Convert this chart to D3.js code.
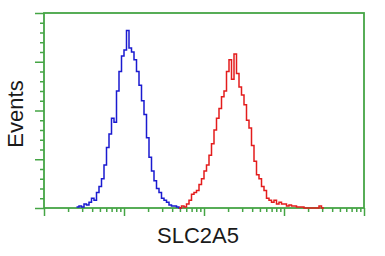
<!DOCTYPE html>
<html><head><meta charset="utf-8">
<script src="https://cdn.jsdelivr.net/npm/d3@7"></script>
<style>body{margin:0;background:#fff}svg{display:block}</style>
</head><body>
<script>
// Histogram data: 128 log-spaced channels over 4 decades; counts as % of y range
const blueStart = 13;
const blueCounts = [0.5,1,0.5,2,1.5,3,5,4,8,11,15,22,31,38,46,44,60,70,78,81,91,82,80,76,70,63,55,48,36,26,19,14,10,8,5,4,3,1.5,1,1,0.5,0];
const redStart = 54;
const redCounts = [0,1,0.5,2,4,7,8,9,12,15,19,22,27,33,40,46,51,57,60,70,76,66,79,69,62,58,53,45,41,32,24,17,15,11,9,5,4,3,4,2,3,2,2,1,1.5,1,1,0.5,0.5,0.5,0,0,0,0,0,0,1,0];
const xMajorTicks = [1,10,100,1000,10000];
const yMajorTicks = [0,25,50,75,100];
const xLabel = "SLC2A5";
const yLabel = "Events";

const W=385,H=256, L=44,R=364,T=13,B=208;
const svg=d3.select("body").append("svg").attr("width",W).attr("height",H);
const green="#45a545";
const nCh=128;
const x=d3.scaleLog().domain([1,1e4]).range([L,R]);
const ch=i=>Math.pow(10,i*4/nCh);
const y=d3.scaleLinear().domain([0,100]).range([B,T]);

const minorX=[];
for(let d=0;d<4;d++)for(let k=2;k<=9;k++)minorX.push(k*Math.pow(10,d));
const minorY=d3.range(0,101,5).filter(v=>v%25!==0);

function styleAxis(g){g.select(".domain").remove();g.selectAll("line").attr("stroke",green).attr("stroke-width",1.5);g.selectAll("text").remove();}
svg.append("g").attr("transform",`translate(0,${B})`).call(d3.axisBottom(x).tickValues(xMajorTicks).tickSize(8).tickFormat("")).call(styleAxis);
svg.append("g").attr("transform",`translate(0,${B})`).call(d3.axisBottom(x).tickValues(minorX).tickSize(4).tickFormat("")).call(styleAxis);
svg.append("g").attr("transform",`translate(${L},0)`).call(d3.axisLeft(y).tickValues(yMajorTicks).tickSize(9).tickFormat("")).call(styleAxis);
svg.append("g").attr("transform",`translate(${L},0)`).call(d3.axisLeft(y).tickValues(minorY).tickSize(4).tickFormat("")).call(styleAxis);

svg.append("rect").attr("x",L).attr("y",T).attr("width",R-L).attr("height",B-T)
  .attr("fill","none").attr("stroke",green).attr("stroke-width",1.8);

function hist(start,counts,color){
  const pts=counts.map((c,j)=>[ch(start+j),c]);
  pts.push([ch(start+counts.length),counts[counts.length-1]]);
  const line=d3.line().x(d=>x(d[0])).y(d=>y(d[1])).curve(d3.curveStepAfter);
  svg.append("path").attr("d",line(pts)).attr("fill","none").attr("stroke",color).attr("stroke-width",1.5);
}
hist(blueStart,blueCounts,"#1a1ad0");
hist(redStart,redCounts,"#e31c1c");

svg.append("text").attr("transform","translate(23,114) rotate(-90)").attr("text-anchor","middle")
  .attr("font-family","Liberation Sans, Arial, sans-serif").attr("font-size",22).attr("fill","#1a1a1a").text(yLabel);
svg.append("text").attr("x",198).attr("y",243).attr("text-anchor","middle")
  .attr("font-family","Liberation Sans, Arial, sans-serif").attr("font-size",22).attr("fill","#1a1a1a").text(xLabel);
</script>
</body></html>
